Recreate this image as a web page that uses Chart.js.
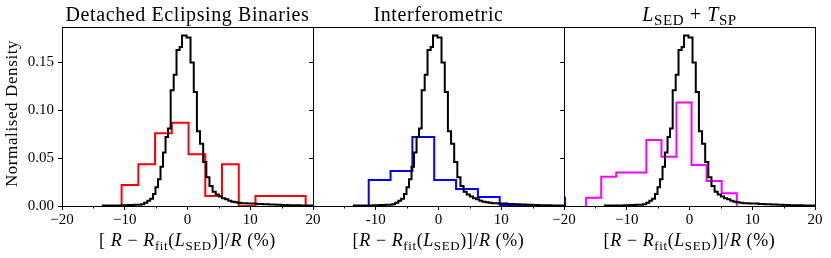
<!DOCTYPE html>
<html><head><meta charset="utf-8">
<script src="https://cdn.jsdelivr.net/npm/chart.js@4.4.1/dist/chart.umd.min.js"></script>
<style>
html,body{margin:0;padding:0;background:#fff;}
#wrap{position:relative;width:831px;height:258px;background:#fff;}
canvas{position:absolute;left:0;top:0;}
</style></head><body>
<div id="wrap">
<canvas id="c1" width="831" height="258"></canvas>
<canvas id="c2" width="831" height="258"></canvas>
<canvas id="c3" width="831" height="258"></canvas>
</div>
<script>
// ---- data ----
const blackEdges = [-13.5,-12.5,-11.5,-10.5,-9.5,-8.5,-7.9,-7.4,-6.9,-6.4,-5.95,-5.5,-5.1,-4.7,-4.3,-3.9,-3.5,-3.1,-2.68,-2.2,-1.75,-1.25,-0.87,-0.16,0.48,1.0,1.5,2.0,2.5,3.0,3.5,4.0,4.5,5.0,5.5,6.0,6.5,7.0,7.5,8.0,8.5,9.0,9.5,10,11,12,13,14,15,16,17,18,19,20,21];
const blackHeights = [0.0004,0.0005,0.0006,0.0008,0.001,0.0012,0.0014,0.0018,0.0035,0.0055,0.0075,0.0126,0.0196,0.028,0.041,0.056,0.072,0.081,0.121,0.137,0.163,0.166,0.178,0.176,0.150,0.119,0.078,0.065,0.046,0.030,0.021,0.015,0.012,0.010,0.008,0.007,0.0055,0.0045,0.004,0.0035,0.003,0.0028,0.0025,0.0025,0.002,0.0018,0.0015,0.0012,0.001,0.0009,0.0007,0.0006,0.0005,0.0004];
const redEdges = [-10.5,-7.83,-5.17,-2.5,0.17,2.83,5.5,8.17,10.83,13.5,16.17,18.83];
const redHeights = [0.022,0.0435,0.076,0.087,0.054,0.0104,0.0435,0,0.0104,0.0104,0.0104];
const blueEdges = [-11.12,-7.64,-4.16,-0.68,2.8,6.28,9.76,13.24,16.72,20.2,23.68];
const blueHeights = [0.0271,0.0365,0.072,0.0271,0.0177,0.0094,0.001,0,0,0.0094];
const magentaEdges = [-16.47,-14.07,-11.67,-9.27,-6.87,-4.47,-2.07,0.33,2.73,5.13,7.53];
const magentaHeights = [0.0087,0.0306,0.0351,0.0351,0.0689,0.0515,0.108,0.0428,0.0261,0.0132];
const yTickValues = [0, 0.05, 0.10, 0.15];
const xTickLabelsP1 = {'-20':'\u221220','-10':'\u221210','0':'0','10':'10','20':'20'};
const xTickLabelsP2 = {'-10':'-10','0':'0','10':'10'};
const xTickLabelsP3 = {'-20':'\u221220','-10':'\u221210','0':'0','10':'10','20':'20'};
const titles = [
  [{t:'Detached Eclipsing Binaries'}],
  [{t:'Interferometric'}],
  [{t:'L',it:1},{t:'SED',sub:1},{t:' + '},{t:'T',it:1},{t:'SP',sub:1}]
];
function xlab(space){return [{t:space?'[ ':'['},{t:'R',it:1},{t:' \u2212 '},{t:'R',it:1},{t:'fit',sub:1},{t:'('},{t:'L',it:1},{t:'SED',sub:1},{t:')]/'},{t:'R',it:1},{t:' (%)'}];}
const xLabels = [xlab(true), xlab(false), xlab(false)];
const yLabel = 'Normalised Density';

const FONT = '"Liberation Serif", "DejaVu Serif", serif';

function stepPoints(edges, heights){
  const pts = [{x:edges[0], y:0}];
  for (let i=0;i<heights.length;i++) pts.push({x:edges[i], y:heights[i]});
  pts.push({x:edges[edges.length-1], y:0});
  return pts;
}

function drawRich(ctx, segs, cx, baseline, size, subRatio, spacing){
  const parts = segs.map(s=>{
    const fs = s.sub ? size*subRatio : size;
    const font = (s.it?'italic ':'') + fs + 'px ' + FONT;
    ctx.font = font;
    const w = ctx.measureText(s.t).width + spacing*s.t.length;
    return {s, font, w, dy: s.sub ? size*0.22 : 0};
  });
  const total = parts.reduce((a,p)=>a+p.w,0);
  let x = cx - total/2;
  ctx.textAlign='left'; ctx.textBaseline='alphabetic'; ctx.fillStyle='#000';
  for (const p of parts){
    ctx.font=p.font;
    let xx = x;
    for (const ch of p.s.t){ ctx.fillText(ch, xx, baseline+p.dy); xx += ctx.measureText(ch).width + spacing; }
    x+=p.w;
  }
}

function makePanel(id, idx, colorData, colorEdges, color, labels){
  const left = 62 + idx*251;
  const yW = idx===0 ? 46 : 5;
  const decor = {
    id:'decor'+idx,
    afterDraw(chart){
      const ctx = chart.ctx, a = chart.chartArea;
      const xs = chart.scales.x;
      ctx.save();
      ctx.strokeStyle='#000'; ctx.lineWidth=1;
      ctx.strokeRect(Math.round(a.left)+0.5, Math.round(a.top)+0.5, Math.round(a.right-a.left), Math.round(a.bottom-a.top));
      // minor ticks
      [-15,-5,5,15].forEach(v=>{
        const px = Math.round(xs.getPixelForValue(v))+0.5;
        ctx.beginPath(); ctx.moveTo(px, a.bottom); ctx.lineTo(px, a.bottom+2.5); ctx.stroke();
      });
      const cx = (a.left+a.right)/2;
      drawRich(ctx, titles[idx], cx, 21, 20, 0.75, 0.6);
      drawRich(ctx, xLabels[idx], cx, 246, 18, 0.72, 0.6);
      if (idx===0){
        ctx.translate(13, (a.top+a.bottom)/2 - 3);
        ctx.rotate(-Math.PI/2);
        ctx.font = '17px '+FONT; ctx.textAlign='center'; ctx.textBaseline='middle';
        ctx.letterSpacing = '0.6px';
        ctx.fillText(yLabel, 0, 0);
      }
      ctx.restore();
    }
  };
  return new Chart(document.getElementById(id), {
    type:'line',
    data:{datasets:[
      {data: stepPoints(blackEdges, blackHeights), borderColor:'#000', borderWidth:2, stepped:'before', pointRadius:0, fill:false},
      {data: stepPoints(colorEdges, colorData), borderColor:color, borderWidth:2, stepped:'before', pointRadius:0, fill:false, clip:{left:2,top:2,right:2,bottom:2}}
    ]},
    options:{
      responsive:false, animation:false, devicePixelRatio:1,
      layout:{padding:{left:left-yW, right:831-(left+251), top:27, bottom:22}},
      plugins:{legend:{display:false}, tooltip:{enabled:false}},
      scales:{
        x:{type:'linear', min:-20, max:20,
           afterFit(s){ s.height = 30; },
           afterBuildTicks(s){ s.ticks = s.ticks.filter(t=>Math.abs(t.value%10)<1e-9 && labels[String(t.value)]!==undefined); },
           ticks:{stepSize:10, autoSkip:false, maxRotation:0, padding:1, color:'#000',
                  font:{family:FONT, size:15},
                  callback:(v)=>labels[String(v)]},
           grid:{drawOnChartArea:false, drawTicks:true, tickLength:4, color:'#000', tickColor:'#000'},
           border:{display:false}},
        y:{type:'linear', min:0, max:0.187,
           afterFit(s){ s.width = yW; },
           afterBuildTicks(s){ s.ticks = yTickValues.map(v=>({value:v})); },
           ticks:{display: idx===0, padding:4, color:'#000', font:{family:FONT, size:15},
                  callback:(v)=>Number(v).toFixed(2)},
           grid:{drawOnChartArea:false, drawTicks:true, tickLength:4, color:'#000', tickColor:'#000'},
           border:{display:false}}
      }
    },
    plugins:[decor]
  });
}
makePanel('c1', 0, redHeights, redEdges, '#ff0000', xTickLabelsP1);
makePanel('c2', 1, blueHeights, blueEdges, '#0000ff', xTickLabelsP2);
makePanel('c3', 2, magentaHeights, magentaEdges, '#ff00ff', xTickLabelsP3);
</script>
</body></html>
